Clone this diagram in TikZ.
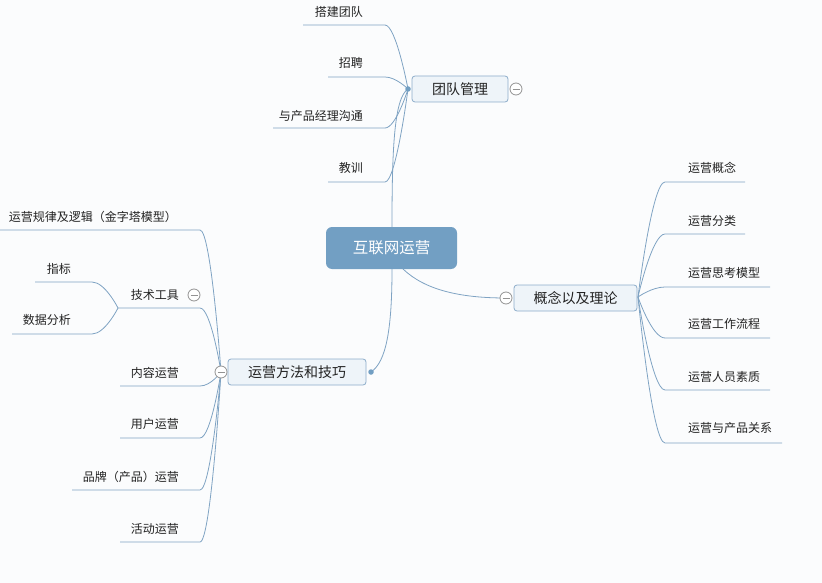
\documentclass[tikz,border=0pt]{standalone}
\usepackage{fontspec}
\usetikzlibrary{calc}
\newfontfamily\cjk{Noto Sans CJK SC}
\definecolor{bgc}{HTML}{FBFCFD}
\definecolor{linec}{HTML}{7FA3C3}
\definecolor{mainc}{HTML}{729FC3}
\definecolor{boxf}{HTML}{EEF4F9}
\definecolor{boxd}{HTML}{8DADCA}
\definecolor{txt}{HTML}{222222}
\begin{document}
\begin{tikzpicture}[x=1pt,y=-1pt,
  leaf/.style={font=\cjk\fontsize{12}{14}\selectfont,text=txt,inner sep=0pt},
  topicbox/.style={draw=boxd,fill=boxf,rounded corners=3pt,line width=0.8pt,minimum height=26pt,font=\cjk\fontsize{14}{16}\selectfont,text=txt,inner sep=0pt},
  conn/.style={draw=linec,line width=0.8pt},
  knob/.style={circle,draw=gray!85,fill=white,line width=0.8pt,minimum size=12pt,inner sep=0pt},
  jdot/.style={circle,fill=mainc,minimum size=5.5pt,inner sep=0pt}]
\fill[bgc] (0,0) rectangle (822,583);
\useasboundingbox (0,0) rectangle (822,583);

% central
\node[fill=mainc,rounded corners=6pt,minimum width=131pt,minimum height=42pt,text=white,font=\cjk\fontsize{15.5}{18}\selectfont,inner sep=0pt] (root) at (391.5,248) {互联网运营};

% main topics
\node[topicbox,minimum width=96pt] (team) at (460,89) {团队管理};
\node[topicbox,minimum width=123pt] (theory) at (575.5,298) {概念以及理论};
\node[topicbox,minimum width=138pt] (method) at (297,372) {运营方法和技巧};

% junctions
\coordinate (jteam) at (408,89);
\coordinate (jmethod) at (371,372);
\coordinate (kteam) at (516,89);
\coordinate (ktheory) at (506,298);
\coordinate (kmethod) at (221,372);
\coordinate (jtheory) at (638,297);

% root connectors
\coordinate (rtop) at (392,227);
\draw[conn] (rtop) .. controls (392,150) and (394,98) .. (jteam);
\coordinate (rbot) at (392,269);
\draw[conn] (rbot) .. controls (392,330) and (386,362) .. (jmethod);
\coordinate (rright) at (403,269);
\draw[conn] (rright) .. controls (425,290) and (460,298) .. (ktheory);

% team children
\node[leaf,anchor=east] (t1) at (363,12) {搭建团队};
\node[leaf,anchor=east] (t2) at (363,63) {招聘};
\node[leaf,anchor=east] (t3) at (363,116) {与产品经理沟通};
\node[leaf,anchor=east] (t4) at (363,168) {教训};
\coordinate (t1a) at (303,25); \coordinate (t1b) at (385,25);
\coordinate (t2a) at (328,77); \coordinate (t2b) at (385,77);
\coordinate (t3a) at (273,128); \coordinate (t3b) at (385,128);
\coordinate (t4a) at (328,182); \coordinate (t4b) at (385,182);
\foreach \c in {t1,t2,t3,t4}{
  \draw[conn] (\c a) -- (\c b) .. controls +(11,0) and (jteam) .. (jteam);
}

% theory children
\node[leaf,anchor=west] (r1) at (688,168) {运营概念};
\node[leaf,anchor=west] (r2) at (688,221) {运营分类};
\node[leaf,anchor=west] (r3) at (688,273) {运营思考模型};
\node[leaf,anchor=west] (r4) at (688,324) {运营工作流程};
\node[leaf,anchor=west] (r5) at (688,377) {运营人员素质};
\node[leaf,anchor=west] (r6) at (688,428) {运营与产品关系};
\coordinate (r1a) at (745,182); \coordinate (r1b) at (665,182);
\coordinate (r2a) at (745,234); \coordinate (r2b) at (665,234);
\coordinate (r3a) at (770,287); \coordinate (r3b) at (665,287);
\coordinate (r4a) at (770,338); \coordinate (r4b) at (665,338);
\coordinate (r5a) at (770,390); \coordinate (r5b) at (665,390);
\coordinate (r6a) at (782,443); \coordinate (r6b) at (665,443);
\foreach \c in {r1,r2,r3,r4,r5,r6}{
  \draw[conn] (\c a) -- (\c b) .. controls +(-13,0) and (jtheory) .. (jtheory);
}

% method children
\node[leaf,anchor=east] (m1) at (177,217) {运营规律及逻辑（金字塔模型）};
\node[leaf,anchor=east] (m2) at (179,295) {技术工具};
\node[leaf,anchor=east] (m3) at (179,373) {内容运营};
\node[leaf,anchor=east] (m4) at (179,424) {用户运营};
\node[leaf,anchor=east] (m5) at (179,477) {品牌（产品）运营};
\node[leaf,anchor=east] (m6) at (179,529) {活动运营};
\coordinate (kt) at (194,295);
\coordinate (m1a) at (0,230); \coordinate (m1b) at (200,230);
\coordinate (m2a) at (118,308); \coordinate (m2b) at (200,308);
\coordinate (m3a) at (120,386); \coordinate (m3b) at (200,386);
\coordinate (m4a) at (120,438); \coordinate (m4b) at (200,438);
\coordinate (m5a) at (72,490); \coordinate (m5b) at (200,490);
\coordinate (m6a) at (120,542); \coordinate (m6b) at (200,542);
\foreach \c in {m1,m2,m3,m4,m5,m6}{
  \draw[conn] (\c a) -- (\c b) .. controls +(11,0) and (kmethod) .. (kmethod);
}

% tool children
\node[leaf,anchor=east] (s1) at (71,269) {指标};
\node[leaf,anchor=east] (s2) at (71,320) {数据分析};
\coordinate (s1a) at (35,282); \coordinate (s1b) at (92,282);
\coordinate (s2a) at (12,334); \coordinate (s2b) at (92,334);
\foreach \c in {s1,s2}{
  \draw[conn] (\c a) -- (\c b) .. controls +(13,0) and (m2a) .. (m2a);
}

% knobs on top
\foreach \k in {kteam,ktheory,kmethod,kt}{
  \node[knob] at (\k) {};
  \draw[gray!85,line width=0.8pt] ($(\k)+(-3.5,0)$) -- ($(\k)+(3.5,0)$);
}
\node[jdot] at (jteam) {};
\node[jdot] at (jmethod) {};
\end{tikzpicture}
\end{document}
